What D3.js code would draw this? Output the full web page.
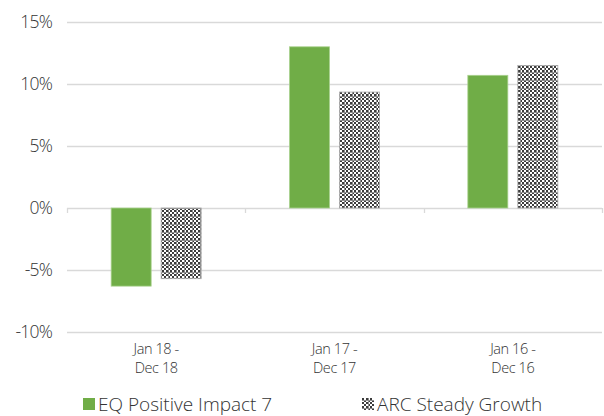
<!DOCTYPE html>
<html>
<head>
<meta charset="utf-8">
<script src="https://cdn.jsdelivr.net/npm/d3@7"></script>
<style>
  html, body { margin: 0; padding: 0; background: #fff; }
  svg text { font-family: "Open Sans", "DejaVu Sans", sans-serif; font-weight: 300; fill: #333333; }
</style>
</head>
<body>
<svg id="chart" width="604" height="416"></svg>
<script>
// Annual returns per period
const categories = [["Jan 18 -", "Dec 18"], ["Jan 17 -", "Dec 17"], ["Jan 16 -", "Dec 16"]];
const seriesNames = ["EQ Positive Impact 7", "ARC Steady Growth"];
const eqValues = [-6.3, 13.0, 10.7];
const arcValues = [-5.7, 9.35, 11.5];
const yTicks = [-10, -5, 0, 5, 10, 15];

const svg = d3.select("#chart");
const margin = { left: 67, right: 2 };
const W = 604;

// Checkered fill for the ARC series
const defs = svg.append("defs");
const pat = defs.append("pattern")
  .attr("id", "checker").attr("patternUnits", "userSpaceOnUse")
  .attr("width", 8).attr("height", 8);
pat.append("rect").attr("width", 8).attr("height", 8).attr("fill", "#ffffff");
for (let i = 0; i < 4; i++) {
  for (let j = 0; j < 4; j++) {
    if ((i + j) % 2 === 0) {
      pat.append("rect").attr("x", i * 2).attr("y", j * 2)
        .attr("width", 2).attr("height", 2).attr("fill", "#3c3c3c");
    }
  }
}
pat.append("rect").attr("x", 0).attr("y", 0).attr("width", 1).attr("height", 8).attr("fill", "#8c8c8c");
pat.append("rect").attr("x", 0).attr("y", 0).attr("width", 8).attr("height", 1).attr("fill", "#8c8c8c");

const x0 = d3.scaleBand().domain(d3.range(categories.length))
  .range([margin.left, W - margin.right]).paddingInner(0).paddingOuter(0);
const y = d3.scaleLinear().domain([-10, 15]).range([332, 22]);

// Gridlines
svg.append("g").selectAll("line").data(yTicks).join("line")
  .attr("x1", margin.left).attr("x2", W - margin.right)
  .attr("y1", d => Math.round(y(d)) + 0.5).attr("y2", d => Math.round(y(d)) + 0.5)
  .attr("stroke", "#d9d9d9").attr("stroke-width", 1.3);

// Y axis labels
svg.append("g").selectAll("text").data(yTicks).join("text")
  .attr("x", 52).attr("y", d => y(d)).attr("dy", "0.36em")
  .attr("text-anchor", "end").attr("font-size", 17.5)
  .attr("letter-spacing", -0.8)
  .text(d => d + "%");

// Category axis tick marks at band boundaries
const boundaries = d3.range(categories.length + 1).map(i =>
  i < categories.length ? x0(i) : x0(categories.length - 1) + x0.bandwidth());
svg.append("g").selectAll("line").data(boundaries).join("line")
  .attr("x1", d => Math.round(d) + 0.5).attr("x2", d => Math.round(d) + 0.5)
  .attr("y1", y(0)).attr("y2", y(0) + 5)
  .attr("stroke", "#d9d9d9").attr("stroke-width", 1.3);

// Bars: width 40 with a 10px gap inside each group
const x1 = d3.scaleBand().domain([0, 1]).range([0, 90]).paddingInner(0.2);
const offset = (x0.bandwidth() - 90) / 2;
const series = [
  { values: eqValues, fill: "#70ad47", stroke: "#a9d18e" },
  { values: arcValues, fill: "url(#checker)", stroke: "#a6a6a6" }
];
series.forEach((s, si) => {
  svg.append("g").selectAll("rect").data(s.values).join("rect")
    .attr("x", (d, i) => x0(i) + offset + x1(si))
    .attr("width", x1.bandwidth())
    .attr("y", d => y(Math.max(0, d)))
    .attr("height", d => Math.abs(y(d) - y(0)))
    .attr("fill", s.fill)
    .attr("stroke", s.stroke).attr("stroke-width", 0.8);
});

// Category labels, two lines each
const catG = svg.append("g").selectAll("g").data(categories).join("g");
catG.selectAll("text").data((d, i) => d.map(t => ({ t, i }))).join("text")
  .attr("x", d => x0(d.i) + x0.bandwidth() / 2)
  .attr("y", (d, j) => 354 + j * 19)
  .attr("text-anchor", "middle").attr("font-size", 14.5)
  .attr("letter-spacing", -0.4)
  .text(d => d.t);

// Legend
const legend = [
  { name: seriesNames[0], fill: "#70ad47", x: 83 },
  { name: seriesNames[1], fill: "url(#checker)", x: 362 }
];
const lg = svg.append("g").selectAll("g").data(legend).join("g");
lg.append("rect").attr("x", d => d.x).attr("y", 398).attr("width", 12).attr("height", 12)
  .attr("fill", d => d.fill);
lg.append("text").attr("x", d => d.x + 15).attr("y", 411).attr("font-size", 19)
  .text(d => d.name);
</script>
</body>
</html>
